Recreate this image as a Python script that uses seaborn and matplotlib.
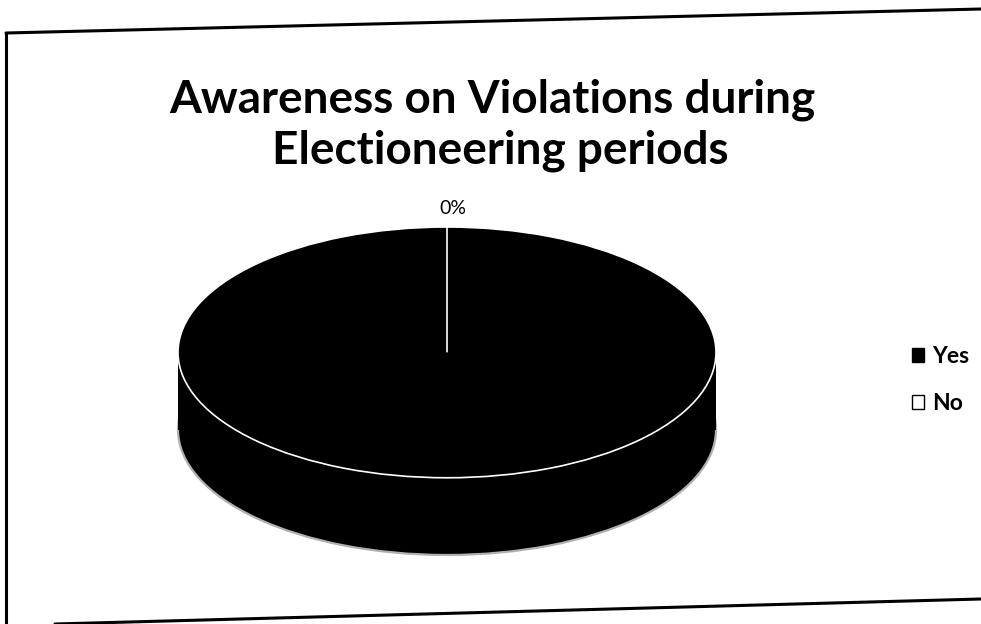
import matplotlib
matplotlib.use("Agg")
import matplotlib.pyplot as plt
from matplotlib.patches import Patch, Rectangle
from matplotlib.lines import Line2D
import seaborn as sns

# Survey responses
categories = ["Yes", "No"]
shares = [100, 0]
colors = ["black", "white"]
title_lines = ["Awareness on Violations during", "Electioneering periods"]

sns.set_theme(style="white")
plt.rcParams["font.family"] = ["Lato", "DejaVu Sans"]
plt.rcParams["text.color"] = "black"

W, H = 981, 624
fig = plt.figure(figsize=(W / 100, H / 100), dpi=100)
fig.patch.set_facecolor("white")

# Axes holding the tilted pie (circle squashed into an ellipse)
ax = fig.add_axes([178 / W, (H - 555) / H, 538 / W, 328 / H])
depth = 0.616

# bottom rim of the disc
ax.pie(shares, colors=colors, startangle=90, counterclock=False,
       center=(0, -depth), radius=1,
       wedgeprops=dict(edgecolor="#b0b0b0", linewidth=1.6))
# side wall
ax.add_patch(Rectangle((-1, -depth), 2, depth, facecolor="black",
                       edgecolor="none", zorder=1))
# top face
ax.pie(shares, colors=colors, startangle=90, counterclock=False,
       center=(0, 0), radius=1,
       wedgeprops=dict(edgecolor="white", linewidth=1.2))

ax.set_aspect("auto")
ax.set_xlim(-1, 1)
ax.set_ylim(-1 - depth, 1)
ax.axis("off")

# percentage label of the empty slice
total = sum(shares)
ax.text(0.02, 1.15, f"{shares[1] / total * 100:.0f}%", ha="center",
        va="center", fontsize=14, color="black", clip_on=False)

# Title
fig.text(492 / W, 1 - 100 / H, title_lines[0], ha="center", va="center",
         fontsize=33, fontweight="bold", color="black")
fig.text(500 / W, 1 - 151 / H, title_lines[1], ha="center", va="center",
         fontsize=33, fontweight="bold", color="black")

# Legend
handles = [Patch(facecolor=c, edgecolor="black", linewidth=1) for c in colors]
fig.legend(handles, categories, loc="center left",
           bbox_to_anchor=(891 / W, 1 - 380 / H), frameon=False,
           handlelength=0.55, handleheight=0.55, handletextpad=0.35,
           labelspacing=1.15, prop=dict(size=16.5, weight="bold"),
           labelcolor="black")

# Slightly skewed outer frame
frame = dict(color="black", linewidth=2.2, transform=fig.transFigure)
fig.add_artist(Line2D([6 / W, 1.0], [1 - 33 / H, 1 - 9 / H], **frame))
fig.add_artist(Line2D([6 / W, 6 / W], [1 - 33 / H, 0.0], **frame))
fig.add_artist(Line2D([55 / W, 1.0], [0.0, 1 - 599 / H], **frame))

fig.savefig("out.png", dpi=100, facecolor="white")
